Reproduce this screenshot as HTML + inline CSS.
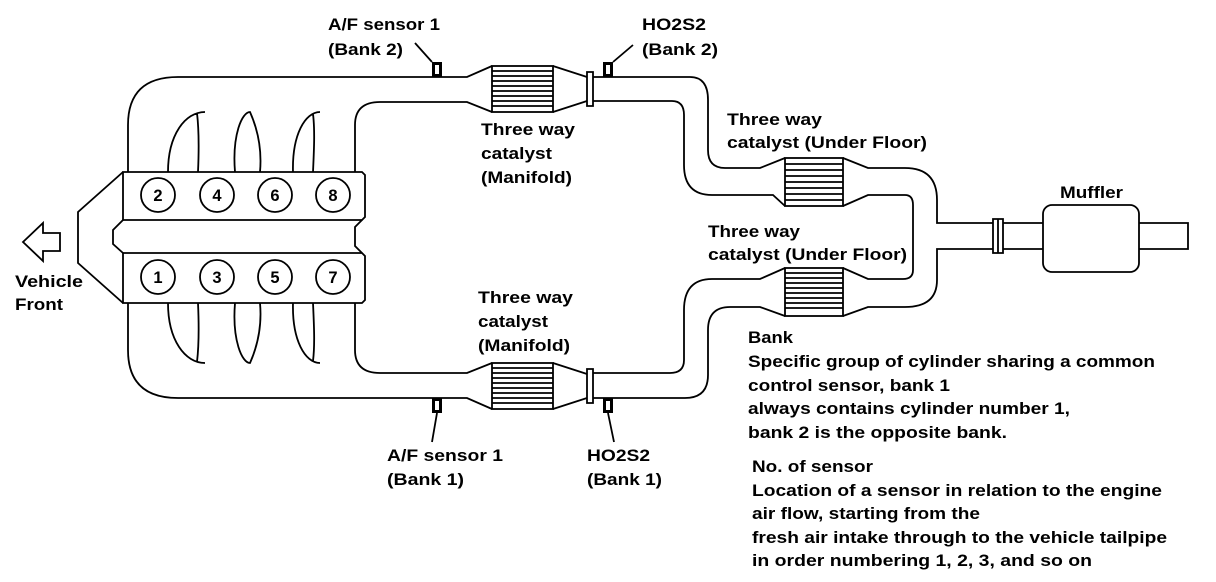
<!DOCTYPE html>
<html><head><meta charset="utf-8"><style>
html,body{margin:0;padding:0;background:#fff}
svg{display:block}
text{font-family:"Liberation Sans",sans-serif;font-size:16.5px;font-weight:bold;fill:#000}
.p{fill:none;stroke:#000;stroke-width:1.8}
.c{fill:#fff;stroke:#000;stroke-width:1.8}
</style></head><body>
<svg width="1216" height="582" viewBox="0 0 1216 582" xmlns="http://www.w3.org/2000/svg">
<!-- arrow -->
<path class="p" stroke-width="2.5" d="M23,242 L43,223 V233 H60 V251 H43 V261 Z"/>
<text x="15" y="287" textLength="68" lengthAdjust="spacingAndGlyphs">Vehicle</text>
<text x="15" y="310" textLength="48" lengthAdjust="spacingAndGlyphs">Front</text>

<!-- engine front shape -->
<path class="p" d="M123,172 L78,212 V263 L123,303"/>
<!-- blocks -->
<path class="c" d="M123,172 H362 L365,175 V217 L362,220 H123 Z"/>
<path class="c" d="M123,253 H362 L365,256 V300 L362,303 H123 Z"/>
<path class="p" d="M123,220 L113,230 V244 L123,253 M362,220 L355,227 V246 L362,253"/>
<g class="c">
<circle cx="158" cy="195" r="17"/><circle cx="217" cy="195" r="17"/><circle cx="275" cy="195" r="17"/><circle cx="333" cy="195" r="17"/>
<circle cx="158" cy="277" r="17"/><circle cx="217" cy="277" r="17"/><circle cx="275" cy="277" r="17"/><circle cx="333" cy="277" r="17"/>
</g>
<g text-anchor="middle" style="font-size:17px">
<text x="158" y="201">2</text><text x="217" y="201">4</text><text x="275" y="201">6</text><text x="333" y="201">8</text>
<text x="158" y="283">1</text><text x="217" y="283">3</text><text x="275" y="283">5</text><text x="333" y="283">7</text>
</g>
<!-- runners top -->
<path class="p" d="M168,172 C168,135 185,112 205,112 M198,172 C199,150 199,130 197,113
M235,172 C232,135 242,112 250,112 C258,130 262,150 260,172
M293,172 C292,135 305,112 320,112 M313,172 C314,150 315,130 313,114"/>
<!-- runners bottom -->
<path class="p" d="M168,303 C168,340 185,363 205,363 M198,303 C199,325 199,345 197,362
M235,303 C232,340 242,363 250,363 C258,345 262,325 260,303
M293,303 C292,340 305,363 320,363 M313,303 C314,325 315,345 313,361"/>

<!-- top manifold pipes -->
<path class="p" d="M128,172 V125 Q128,77 178,77 H467 L492,66"/>
<path class="p" d="M355,172 V125 Q355,102 380,102 H467 L492,112"/>
<path class="p" d="M553,66 L587,77 M553,112 L587,101"/>
<path class="p" d="M587,72 H593 V106 H587 Z M593,77 H690 Q708,77 708,100 V150 Q708,168 725,168 H760 L785,158"/>
<path class="p" d="M593,101 H672 Q684,101 684,115 V165 Q684,195 712,195 H773 L785,206"/>
<rect class="c" x="492" y="66" width="61" height="46"/>
<path class="p" stroke-width="1.5" d="M492,71h61M492,76h61M492,81h61M492,86h61M492,91h61M492,96h61M492,101h61M492,106h61"/>

<!-- bottom manifold pipes -->
<path class="p" d="M128,303 V350 Q128,398 178,398 H467 L492,409"/>
<path class="p" d="M355,303 V350 Q355,373 380,373 H467 L492,363"/>
<path class="p" d="M553,409 L587,398 M553,363 L587,374"/>
<path class="p" d="M587,369 H593 V403 H587 Z M593,398 H685 Q708,398 708,375 V330 Q708,307 730,307 H760 L785,316"/>
<path class="p" d="M593,373 H670 Q684,373 684,360 V310 Q684,279 712,279 H760 L785,268"/>
<rect class="c" x="492" y="363" width="61" height="46"/>
<path class="p" stroke-width="1.5" d="M492,368h61M492,373h61M492,378h61M492,383h61M492,388h61M492,393h61M492,398h61M492,403h61"/>

<!-- underfloor -->
<rect class="c" x="785" y="158" width="58" height="48"/>
<path class="p" stroke-width="1.2" d="M785,164h58M785,170h58M785,176h58M785,182h58M785,188h58M785,194h58M785,200h58"/>
<rect class="c" x="785" y="268" width="58" height="48"/>
<path class="p" stroke-width="1.5" d="M785,273h58M785,278h58M785,283h58M785,288h58M785,293h58M785,298h58M785,303h58M785,308h58"/>
<path class="p" d="M843,158 L868,168 H905 Q937,168 937,200 V223 H993"/>
<path class="p" d="M843,206 L868,195 H905 Q913,195 913,205 V270 Q913,279 903,279 H868 L843,268"/>
<path class="p" d="M843,316 L868,307 H905 Q937,307 937,280 V249 H993"/>
<path class="p" d="M993,219 H1003 V253 H993 Z M998,219 V253 M1003,223 H1043 M1003,249 H1043"/>
<rect class="c" x="1043" y="205" width="96" height="67" rx="9"/>
<path class="p" d="M1139,223 H1188 V249 H1139"/>
<text x="1060" y="198" textLength="63" lengthAdjust="spacingAndGlyphs">Muffler</text>

<!-- sensors -->
<g fill="#000">
<rect x="432" y="62" width="10" height="15"/><rect x="603" y="62" width="10" height="15"/>
<rect x="432" y="398" width="10" height="15"/><rect x="603" y="398" width="10" height="15"/>
</g>
<g fill="#fff">
<rect x="435" y="65" width="4" height="9"/><rect x="606" y="65" width="4" height="9"/>
<rect x="435" y="401" width="4" height="9"/><rect x="606" y="401" width="4" height="9"/>
</g>
<path class="p" stroke-width="1.5" d="M415,43 L432,62 M613,62 L633,45 M437,413 L432,442 M608,413 L614,442"/>

<!-- labels -->
<text x="328" y="30" textLength="112" lengthAdjust="spacingAndGlyphs">A/F sensor 1</text>
<text x="328" y="55" textLength="75" lengthAdjust="spacingAndGlyphs">(Bank 2)</text>
<text x="642" y="30" textLength="64" lengthAdjust="spacingAndGlyphs">HO2S2</text>
<text x="642" y="55" textLength="76" lengthAdjust="spacingAndGlyphs">(Bank 2)</text>
<text x="481" y="135" textLength="94" lengthAdjust="spacingAndGlyphs">Three way</text>
<text x="481" y="159" textLength="71" lengthAdjust="spacingAndGlyphs">catalyst</text>
<text x="481" y="183" textLength="91" lengthAdjust="spacingAndGlyphs">(Manifold)</text>
<text x="727" y="125" textLength="95" lengthAdjust="spacingAndGlyphs">Three way</text>
<text x="727" y="148" textLength="200" lengthAdjust="spacingAndGlyphs">catalyst (Under Floor)</text>
<text x="708" y="237" textLength="92" lengthAdjust="spacingAndGlyphs">Three way</text>
<text x="708" y="260" textLength="199" lengthAdjust="spacingAndGlyphs">catalyst (Under Floor)</text>
<text x="478" y="303" textLength="95" lengthAdjust="spacingAndGlyphs">Three way</text>
<text x="478" y="327" textLength="70" lengthAdjust="spacingAndGlyphs">catalyst</text>
<text x="478" y="351" textLength="92" lengthAdjust="spacingAndGlyphs">(Manifold)</text>
<text x="387" y="461" textLength="116" lengthAdjust="spacingAndGlyphs">A/F sensor 1</text>
<text x="387" y="485" textLength="77" lengthAdjust="spacingAndGlyphs">(Bank 1)</text>
<text x="587" y="461" textLength="63" lengthAdjust="spacingAndGlyphs">HO2S2</text>
<text x="587" y="485" textLength="75" lengthAdjust="spacingAndGlyphs">(Bank 1)</text>

<text x="748" y="343" textLength="45" lengthAdjust="spacingAndGlyphs">Bank</text>
<text x="748" y="367" textLength="407" lengthAdjust="spacingAndGlyphs">Specific group of cylinder sharing a common</text>
<text x="748" y="391" textLength="202" lengthAdjust="spacingAndGlyphs">control sensor, bank 1</text>
<text x="748" y="414" textLength="322" lengthAdjust="spacingAndGlyphs">always contains cylinder number 1,</text>
<text x="748" y="438" textLength="259" lengthAdjust="spacingAndGlyphs">bank 2 is the opposite bank.</text>
<text x="752" y="472" textLength="121" lengthAdjust="spacingAndGlyphs">No. of sensor</text>
<text x="752" y="496" textLength="410" lengthAdjust="spacingAndGlyphs">Location of a sensor in relation to the engine</text>
<text x="752" y="519" textLength="228" lengthAdjust="spacingAndGlyphs">air flow, starting from the</text>
<text x="752" y="543" textLength="415" lengthAdjust="spacingAndGlyphs">fresh air intake through to the vehicle tailpipe</text>
<text x="752" y="566" textLength="340" lengthAdjust="spacingAndGlyphs">in order numbering 1, 2, 3, and so on</text>
</svg>
</body></html>
